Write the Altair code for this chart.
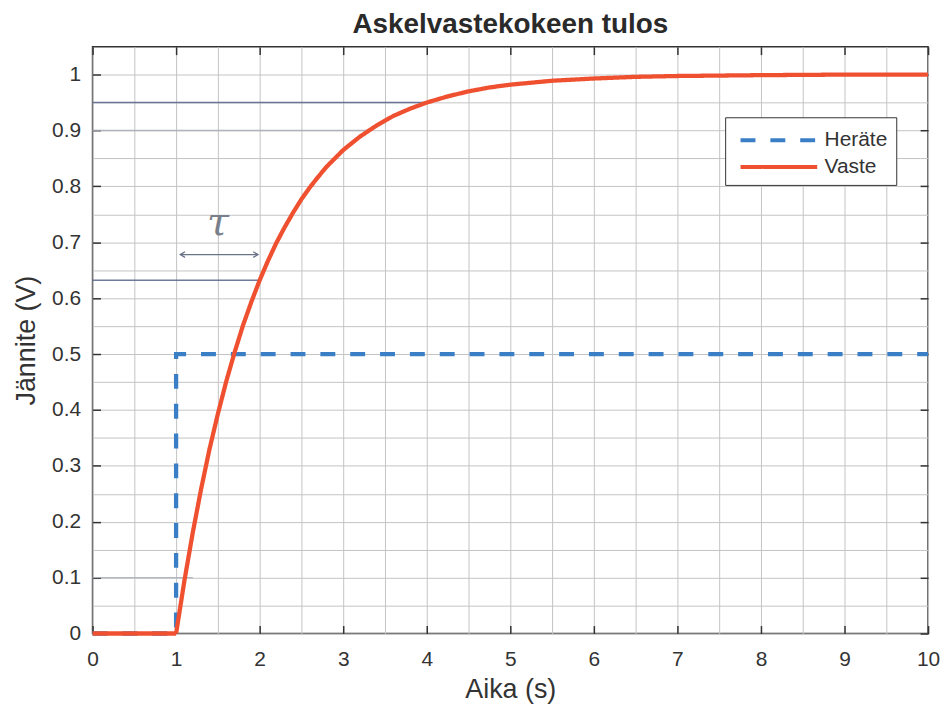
import altair as alt
import pandas as pd

# ---------------- data ----------------
chart_title = "Askelvastekokeen tulos"
x_title = "Aika (s)"
y_title = "Jännite (V)"
series_names = ["Heräte", "Vaste"]

herate_t = [0.0, 1.0, 1.0, 10.0]
herate_v = [0.0, 0.0, 0.5, 0.5]

vaste_t = [0.0, 1.0, 1.1, 1.2, 1.3, 1.4, 1.5, 1.6, 1.7, 1.8, 1.9, 2.0, 2.1, 2.2, 2.3, 2.4,
           2.5, 2.6, 2.7, 2.8, 2.9, 3.0, 3.2, 3.4, 3.6, 3.8, 4.0, 4.25, 4.5, 4.75, 5.0,
           5.5, 6.0, 6.5, 7.0, 8.0, 9.0, 10.0]
vaste_v = [0.0, 0.0, 0.095, 0.181, 0.259, 0.33, 0.393, 0.451, 0.503, 0.551, 0.593, 0.632,
           0.667, 0.699, 0.727, 0.753, 0.777, 0.798, 0.817, 0.835, 0.85, 0.865, 0.889,
           0.909, 0.926, 0.939, 0.95, 0.961, 0.97, 0.977, 0.982, 0.989, 0.993, 0.996,
           0.9975, 0.999, 1.0, 1.0]

x_ticks = [0, 1, 2, 3, 4, 5, 6, 7, 8, 9, 10]
y_ticks = [0, 0.1, 0.2, 0.3, 0.4, 0.5, 0.6, 0.7, 0.8, 0.9, 1.0]
x_grid = [0, 0.5, 1, 1.5, 2, 2.5, 3, 3.5, 4, 4.5, 5, 5.5, 6, 6.5, 7, 7.5, 8, 8.5, 9, 9.5, 10]
y_grid = [0, 0.05, 0.1, 0.15, 0.2, 0.25, 0.3, 0.35, 0.4, 0.45, 0.5, 0.55, 0.6, 0.65,
          0.7, 0.75, 0.8, 0.85, 0.9, 0.95, 1.0]

# hand-drawn pen annotations on the printout
pen_dark_y = [0.632, 0.95]
pen_dark_x1 = [2.0, 4.0]
pen_light_y = [0.9, 0.1]
pen_light_x1 = [3.3, 1.2]
tau_text = ["τ"]
tau_x = [1.5]
tau_y = [0.735]
arrow_x0 = [1.05]
arrow_x1 = [1.98]
arrow_y = [0.678]

BLUE = "#3a7fc6"
RED = "#ef5030"
FONT = "Liberation Sans"

# ---------------- frames ----------------
lines_df = pd.DataFrame({
    "t": herate_t + vaste_t,
    "v": herate_v + vaste_v,
    "series": [series_names[0]] * len(herate_t) + [series_names[1]] * len(vaste_t),
    "order": list(range(len(herate_t))) + list(range(len(vaste_t))),
})
pen_dark_df = pd.DataFrame({"x0": [0.0] * len(pen_dark_y), "x1": pen_dark_x1, "y": pen_dark_y})
pen_light_df = pd.DataFrame({"x0": [0.0] * len(pen_light_y), "x1": pen_light_x1, "y": pen_light_y})
tau_df = pd.DataFrame({"x": tau_x, "y": tau_y, "s": tau_text})
arrow_df = pd.DataFrame({"x0": arrow_x0, "x1": arrow_x1, "y": arrow_y})

xs = alt.Scale(domain=[0, 10], nice=False, zero=False)
ys = alt.Scale(domain=[0, 1.05], nice=False, zero=False)

base = alt.Chart(lines_df)

# grid layer (0.5 / 0.05 spacing)
grid_layer = base.mark_line(opacity=0).encode(
    x=alt.X("t:Q", scale=xs, axis=alt.Axis(values=x_grid, grid=True, labels=False, ticks=False,
                                           domain=False, title=None, orient="bottom",
                                           gridColor="#c4c4c4", gridWidth=1)),
    y=alt.Y("v:Q", scale=ys, axis=alt.Axis(values=y_grid, grid=True, labels=False, ticks=False,
                                           domain=False, title=None, orient="left",
                                           gridColor="#c4c4c4", gridWidth=1)),
)

# labels and titles
label_layer = base.mark_line(opacity=0).encode(
    x=alt.X("t:Q", scale=xs, axis=alt.Axis(values=x_ticks, grid=False, ticks=False, domain=False,
                                           orient="bottom", title=x_title, format="d",
                                           labelFlush=False,
                                           labelFont=FONT, labelFontSize=21, labelColor="#333333",
                                           labelPadding=15, titleFont=FONT, titleFontSize=27,
                                           titleFontWeight="normal", titleColor="#333333",
                                           titlePadding=7)),
    y=alt.Y("v:Q", scale=ys, axis=alt.Axis(values=y_ticks, grid=False, ticks=False, domain=False,
                                           orient="left", title=y_title, format="~g",
                                           labelFlush=False,
                                           labelFont=FONT, labelFontSize=21, labelColor="#333333",
                                           labelPadding=12, titleFont=FONT, titleFontSize=27,
                                           titleFontWeight="normal", titleColor="#333333",
                                           titlePadding=11)),
)

# inward ticks on all four sides
tick_style = dict(grid=False, labels=False, domain=False, title=None, ticks=True,
                  tickSize=8, tickColor="#333333", tickWidth=1.5, offset=-8)
ticks_bl = base.mark_line(opacity=0).encode(
    x=alt.X("t:Q", scale=xs, axis=alt.Axis(values=x_ticks, orient="bottom", **tick_style)),
    y=alt.Y("v:Q", scale=ys, axis=alt.Axis(values=y_ticks, orient="left", **tick_style)),
)
ticks_tr = base.mark_line(opacity=0).encode(
    x=alt.X("t:Q", scale=xs, axis=alt.Axis(values=x_ticks, orient="top", **tick_style)),
    y=alt.Y("v:Q", scale=ys, axis=alt.Axis(values=y_ticks, orient="right", **tick_style)),
)

# pen annotations
pen_dark = alt.Chart(pen_dark_df).mark_rule(strokeWidth=1.5, color="#56648a", opacity=0.85).encode(
    x=alt.X("x0:Q", scale=xs, axis=None), x2="x1:Q",
    y=alt.Y("y:Q", scale=ys, axis=None),
)
pen_light = alt.Chart(pen_light_df).mark_rule(strokeWidth=1.5, color="#a9adb6", opacity=0.85).encode(
    x=alt.X("x0:Q", scale=xs, axis=None), x2="x1:Q",
    y=alt.Y("y:Q", scale=ys, axis=None),
)
arrow_line = alt.Chart(arrow_df).mark_rule(strokeWidth=1.3, color="#6a7388").encode(
    x=alt.X("x0:Q", scale=xs, axis=None), x2="x1:Q",
    y=alt.Y("y:Q", scale=ys, axis=None),
)
arrow_left = alt.Chart(arrow_df).mark_point(filled=False, size=90, strokeWidth=1.3,
                                             color="#6a7388", opacity=1).encode(
    x=alt.X("x0:Q", scale=xs, axis=None),
    y=alt.Y("y:Q", scale=ys, axis=None),
    shape=alt.value("M1,-0.6L0,0L1,0.6"),
)
arrow_right = alt.Chart(arrow_df).mark_point(filled=False, size=90, strokeWidth=1.3,
                                              color="#6a7388", opacity=1).encode(
    x=alt.X("x1:Q", scale=xs, axis=None),
    y=alt.Y("y:Q", scale=ys, axis=None),
    shape=alt.value("M-1,-0.6L0,0L-1,0.6"),
)
tau_layer = alt.Chart(tau_df).mark_text(fontSize=40, font="DejaVu Serif", fontStyle="italic",
                                        color="#7a7f8c").encode(
    x=alt.X("x:Q", scale=xs, axis=None),
    y=alt.Y("y:Q", scale=ys, axis=None),
    text="s:N",
)

legend_props = dict(orient="none", legendX=636, legendY=71, title=None,
                    fillColor="white", strokeColor="#333333", padding=8,
                    symbolType="M-3,0H3", symbolSize=660, symbolStrokeWidth=4,
                    symbolOffset=31, labelOffset=31,
                    labelFont=FONT, labelFontSize=21, labelColor="#333333",
                    rowPadding=2)

data_layer = base.mark_line(strokeWidth=4.3).encode(
    x=alt.X("t:Q", scale=xs, axis=None),
    y=alt.Y("v:Q", scale=ys, axis=None),
    color=alt.Color("series:N", scale=alt.Scale(domain=series_names, range=[BLUE, RED]),
                    legend=alt.Legend(**legend_props)),
    strokeDash=alt.StrokeDash("series:N",
                              scale=alt.Scale(domain=series_names, range=[[15, 15], [1, 0]]),
                              legend=alt.Legend(**legend_props)),
    order="order:Q",
)

chart = alt.layer(
    grid_layer, pen_light, pen_dark, arrow_line, arrow_left, arrow_right, tau_layer,
    label_layer, data_layer, ticks_bl, ticks_tr,
).resolve_axis(
    x="independent", y="independent"
).properties(
    width=840, height=590,
    title=alt.Title(chart_title, font=FONT, fontSize=28, fontWeight="bold", color="#2a2a2a",
                    anchor="middle", baseline="alphabetic", offset=-15, frame="group"),
    autosize=alt.AutoSizeParams(type="none"),
    padding={"left": 85, "top": 37, "right": 13, "bottom": 69},
    background="white",
).configure_view(
    stroke="#333333", strokeWidth=1.5
)

chart.save("out.html", embed_options={"renderer": "svg", "actions": False})
